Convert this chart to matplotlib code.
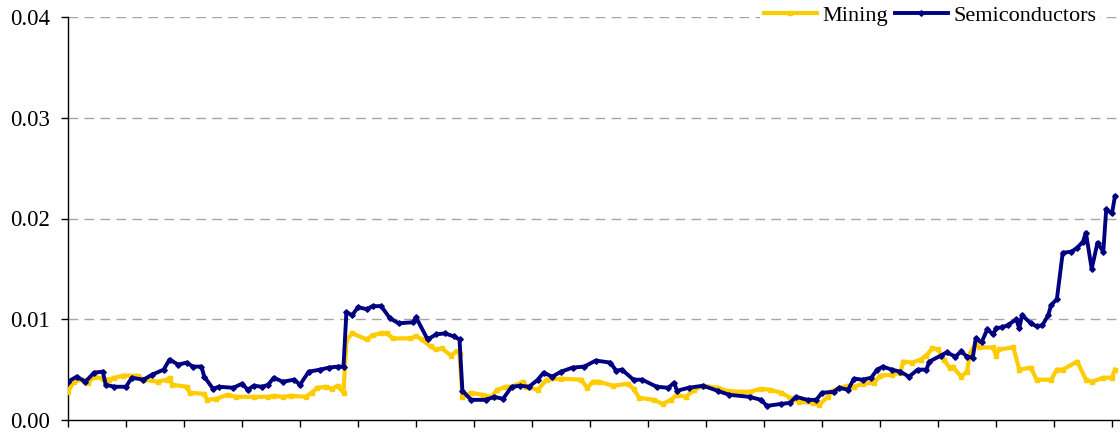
import matplotlib
matplotlib.use("Agg")
import matplotlib.pyplot as plt

# ---- data (x = trading-day index, ticks every 20 days) ----
mining_x = [0, 2, 5, 7, 9, 12, 14, 16, 19, 24, 26, 31, 34, 35, 36, 41, 42, 47, 48, 51,
            55, 58, 64, 69, 71, 74, 77, 82, 84, 86, 89, 91, 93, 95, 96, 98, 103, 105, 108, 110,
            112, 118, 120, 122, 125, 127, 129, 132, 134, 135, 136, 139, 143, 146, 148, 151, 153, 157, 158, 162,
            165, 170, 177, 179, 181, 183, 188, 193, 195, 197, 202, 205, 208, 210, 213, 216, 219, 224, 227, 232,
            235, 239, 242, 246, 249, 252, 257, 259, 262, 263, 266, 269, 271, 274, 278, 280, 284, 287, 288, 291,
            294, 296, 298, 300, 302, 304, 305, 308, 310, 311, 313, 314, 319, 320, 321, 326, 328, 332, 334, 339,
            341, 343, 348, 351, 353, 357, 360, 361]
mining_y = [0.0028, 0.0038, 0.0040, 0.0037, 0.0043, 0.0041, 0.0040, 0.0042, 0.0044, 0.0044,
            0.0040, 0.0038, 0.0040, 0.0042, 0.0035, 0.0033, 0.0027, 0.0026, 0.0020, 0.0021,
            0.0025, 0.0023, 0.0023, 0.0023, 0.0024, 0.0023, 0.0024, 0.0023, 0.0027, 0.0032,
            0.0033, 0.0031, 0.0034, 0.0027, 0.0079, 0.0086, 0.0080, 0.0084, 0.0086, 0.0086,
            0.0081, 0.0081, 0.0083, 0.0080, 0.0073, 0.0070, 0.0071, 0.0064, 0.0068, 0.0066,
            0.0023, 0.0027, 0.0025, 0.0023, 0.0030, 0.0033, 0.0033, 0.0038, 0.0033, 0.0030,
            0.0040, 0.0041, 0.0040, 0.0032, 0.0038, 0.0038, 0.0034, 0.0036, 0.0031, 0.0022,
            0.0020, 0.0016, 0.0020, 0.0025, 0.0023, 0.0030, 0.0034, 0.0032, 0.0029, 0.0028,
            0.0028, 0.0031, 0.0030, 0.0027, 0.0022, 0.0018, 0.0017, 0.0015, 0.0023, 0.0028,
            0.0032, 0.0034, 0.0033, 0.0036, 0.0037, 0.0044, 0.0045, 0.0047, 0.0058, 0.0057,
            0.0060, 0.0064, 0.0071, 0.0070, 0.0060, 0.0052, 0.0053, 0.0043, 0.0048, 0.0066,
            0.0076, 0.0072, 0.0072, 0.0064, 0.0070, 0.0072, 0.0050, 0.0052, 0.0040, 0.0040,
            0.0050, 0.0050, 0.0058, 0.0040, 0.0038, 0.0042, 0.0042, 0.0050]

semi_x = [0, 3, 6, 9, 12, 13, 16, 20, 22, 26, 29, 33, 35, 38, 41, 43, 46, 47, 50, 52,
          57, 60, 62, 64, 67, 69, 71, 74, 78, 80, 83, 87, 90, 93, 95, 96, 98, 100, 103, 105,
          108, 111, 114, 119, 120, 124, 127, 130, 133, 135, 136, 139, 144, 147, 150, 153, 156, 159, 162, 164,
          167, 170, 174, 178, 182, 187, 189, 191, 195, 198, 203, 207, 209, 210, 214, 219, 224, 228, 235, 239,
          241, 246, 249, 251, 255, 258, 260, 264, 266, 269, 271, 274, 277, 279, 281, 284, 287, 290, 293, 296,
          297, 301, 303, 306, 308, 310, 312, 313, 315, 317, 319, 320, 322, 324, 327, 328, 329, 332, 334, 336,
          338, 339, 341, 343, 346, 348, 350, 351, 353, 355, 357, 358, 360, 361]
semi_y = [0.0038, 0.0043, 0.0038, 0.0047, 0.0048, 0.0035, 0.0033, 0.0033, 0.0042, 0.0040,
          0.0045, 0.0050, 0.0060, 0.0055, 0.0057, 0.0053, 0.0053, 0.0043, 0.0031, 0.0033,
          0.0032, 0.0036, 0.0030, 0.0034, 0.0033, 0.0035, 0.0042, 0.0038, 0.0040, 0.0035,
          0.0048, 0.0050, 0.0052, 0.0053, 0.0053, 0.0107, 0.0104, 0.0112, 0.0110, 0.0113,
          0.0113, 0.0101, 0.0096, 0.0097, 0.0102, 0.0080, 0.0085, 0.0086, 0.0083, 0.0080,
          0.0029, 0.0020, 0.0020, 0.0023, 0.0021, 0.0033, 0.0034, 0.0033, 0.0040, 0.0047,
          0.0043, 0.0048, 0.0052, 0.0053, 0.0059, 0.0057, 0.0049, 0.0050, 0.0040, 0.0040,
          0.0033, 0.0032, 0.0037, 0.0029, 0.0032, 0.0034, 0.0029, 0.0025, 0.0023, 0.0020,
          0.0014, 0.0016, 0.0017, 0.0023, 0.0020, 0.0020, 0.0027, 0.0028, 0.0032, 0.0030,
          0.0041, 0.0040, 0.0042, 0.0050, 0.0053, 0.0050, 0.0048, 0.0043, 0.0050, 0.0050,
          0.0058, 0.0064, 0.0067, 0.0063, 0.0068, 0.0063, 0.0062, 0.0081, 0.0077, 0.0090,
          0.0085, 0.0091, 0.0092, 0.0094, 0.0100, 0.0091, 0.0104, 0.0096, 0.0093, 0.0094,
          0.0104, 0.0114, 0.0120, 0.0166, 0.0167, 0.0171, 0.0177, 0.0186, 0.0150, 0.0176,
          0.0167, 0.0209, 0.0205, 0.0222]

y_ticks = [0.00, 0.01, 0.02, 0.03, 0.04]
y_tick_labels = ["0.00", "0.01", "0.02", "0.03", "0.04"]
x_ticks = list(range(0, 361, 20))

# ---- figure ----
plt.rcParams['font.family'] = ['Liberation Serif', 'DejaVu Serif']
plt.rcParams['lines.scale_dashes'] = False

W, H = 1120, 433
fig = plt.figure(figsize=(W / 100, H / 100), dpi=100)
left, right, bottom, top = 68, 1120, 420, 17
ax = fig.add_axes([left / W, 1 - bottom / H, (right - left) / W, (bottom - top) / H])

for yv in y_ticks[1:]:
    ax.axhline(yv, color='#a6a6a6', lw=1.0, ls=(0, (7, 4.5)), zorder=1)

ax.plot(mining_x, mining_y, color='#FFCC00', lw=3.0, marker='s', ms=3.0,
        mec='#FFCC00', mfc='#FFCC00', label='Mining', zorder=3)
ax.plot(semi_x, semi_y, color='#000080', lw=2.8, marker='D', ms=2.8,
        mec='#000080', mfc='#000080', label='Semiconductors', zorder=4)

ax.set_xlim(0, (right - left) / 2.9)
ax.set_ylim(0, 0.04)
ax.set_yticks(y_ticks)
ax.set_yticklabels(y_tick_labels)
ax.set_xticks(x_ticks)
ax.set_xticklabels([])

for s in ['top', 'right']:
    ax.spines[s].set_visible(False)
for s in ['left', 'bottom']:
    ax.spines[s].set_color('black')
    ax.spines[s].set_linewidth(1.0)

ax.tick_params(axis='y', direction='out', length=5, width=1, pad=8, labelsize=16.5, colors='black')
ax.tick_params(axis='x', direction='out', length=5, width=1)

leg = ax.legend(loc='upper right', bbox_to_anchor=(1100 / W, 1.0 - 2 / H), bbox_transform=fig.transFigure,
                ncol=2, frameon=True, fancybox=False, edgecolor='none', facecolor='white', framealpha=1,
                fontsize=16, handlelength=2.4, handletextpad=0.25, columnspacing=0.3,
                borderpad=0.15, borderaxespad=0)
leg.set_zorder(10)

fig.savefig('out.png', dpi=100)
